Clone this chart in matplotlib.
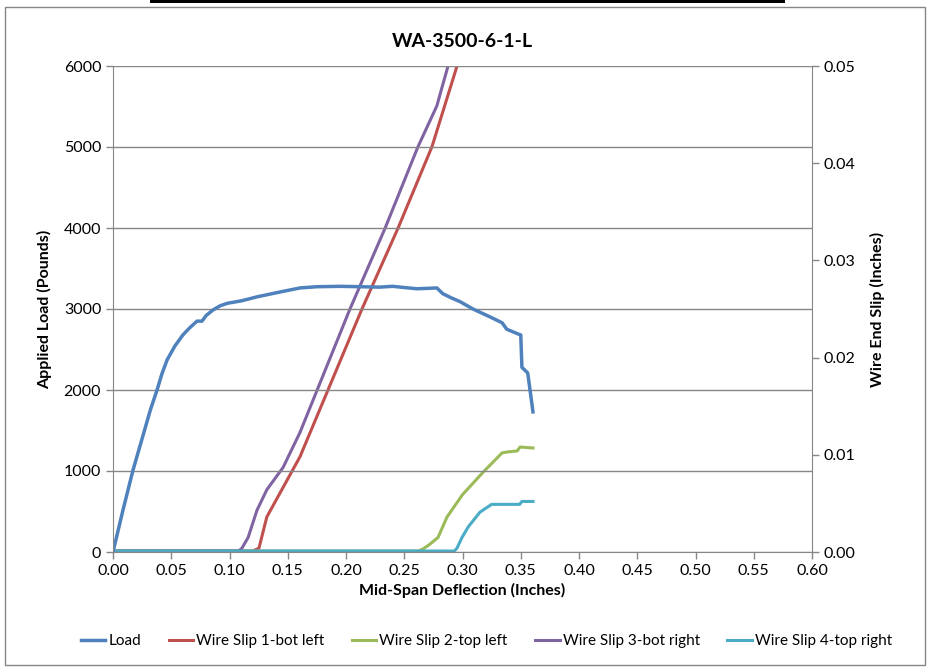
import numpy as np
import matplotlib
matplotlib.use("Agg")
from matplotlib import pyplot as plt
from matplotlib.patches import Rectangle

plt.rcParams['font.family'] = ['Lato', 'DejaVu Sans']

# Load vs mid-span deflection (left axis)
load_x = [0.0, 0.0086, 0.0172, 0.026, 0.032, 0.0378, 0.042, 0.0464, 0.053, 0.060, 0.066,
          0.0721, 0.0764, 0.080, 0.086, 0.092, 0.098, 0.11, 0.1236, 0.14, 0.1605, 0.175,
          0.195, 0.229, 0.240, 0.250, 0.261, 0.270, 0.278, 0.283, 0.290, 0.298, 0.309,
          0.324, 0.334, 0.338, 0.348, 0.350, 0.351, 0.356, 0.3605]
load_y = [0, 520, 1012, 1450, 1750, 2000, 2200, 2370, 2540, 2680, 2770,
          2850, 2850, 2920, 2990, 3040, 3070, 3100, 3150, 3200, 3260, 3275,
          3280, 3270, 3280, 3265, 3250, 3255, 3260, 3190, 3140, 3090, 3000,
          2900, 2830, 2750, 2690, 2680, 2280, 2210, 1730]

# wire end slip (right axis)
slip1_x = [0.0, 0.12, 0.1253, 0.132, 0.1605, 0.2137, 0.2446, 0.2738, 0.2953]
slip1_y = [0.0001, 0.0001, 0.0004, 0.0036, 0.0098, 0.0250, 0.0333, 0.0417, 0.0500]

slip2_x = [0.0, 0.262, 0.266, 0.272, 0.279, 0.2867, 0.300, 0.3176, 0.334, 0.339, 0.347, 0.3494, 0.3605]
slip2_y = [0.0001, 0.0001, 0.0003, 0.0008, 0.0015, 0.0036, 0.0059, 0.0082, 0.0102, 0.0103, 0.0104, 0.0108, 0.0107]

slip3_x = [0.0, 0.108, 0.1107, 0.116, 0.1236, 0.132, 0.146, 0.1605, 0.2034, 0.2335, 0.2618, 0.278, 0.2824, 0.2876]
slip3_y = [0.0001, 0.0001, 0.0004, 0.0015, 0.0043, 0.0064, 0.0087, 0.0123, 0.0250, 0.0333, 0.0417, 0.0459, 0.0478, 0.0500]

slip4_x = [0.0, 0.293, 0.2953, 0.2996, 0.305, 0.315, 0.325, 0.349, 0.351, 0.3605]
slip4_y = [0.0001, 0.0001, 0.0004, 0.0015, 0.0026, 0.0041, 0.0049, 0.0049, 0.0052, 0.0052]

c_load = '#4F81BD'
c1 = '#C0504D'
c2 = '#9BBB59'
c3 = '#8064A2'
c4 = '#4BACC6'
gray = '#868686'

fig = plt.figure(figsize=(9.3, 6.69), dpi=100)
ax = fig.add_axes([113/930, 117/669, 699/930, 486/669])
ax2 = ax.twinx()

ax.set_zorder(ax2.get_zorder() + 1)
ax.patch.set_visible(False)

l0, = ax.plot(load_x, load_y, color=c_load, lw=2.5, label='Load')
l1, = ax2.plot(slip1_x, slip1_y, color=c1, lw=2.2, label='Wire Slip 1-bot left')
l2, = ax2.plot(slip2_x, slip2_y, color=c2, lw=2.2, label='Wire Slip 2-top left')
l3, = ax2.plot(slip3_x, slip3_y, color=c3, lw=2.2, label='Wire Slip 3-bot right')
l4, = ax2.plot(slip4_x, slip4_y, color=c4, lw=2.2, label='Wire Slip 4-top right')

ax.set_xlim(0, 0.6)
ax.set_ylim(0, 6000)
ax2.set_ylim(0, 0.05)
ax.set_xticks(np.arange(0, 0.601, 0.05))
ax.set_xticklabels(['%.2f' % v for v in np.arange(0, 0.601, 0.05)])
ax.set_yticks(range(0, 6001, 1000))
ax2.set_yticks(np.arange(0, 0.0501, 0.01))
ax2.set_yticklabels(['%.2f' % v for v in np.arange(0, 0.0501, 0.01)])

ax.yaxis.grid(True, color=gray, lw=1)
ax.set_axisbelow(True)

for a in (ax, ax2):
    for s in a.spines.values():
        s.set_visible(False)
    a.tick_params(colors=gray, labelcolor='black', labelsize=11.5, length=5, width=1)
ax.spines['left'].set_visible(True)
ax.spines['bottom'].set_visible(True)
ax2.spines['right'].set_visible(True)
ax.spines['left'].set_color(gray)
ax.spines['bottom'].set_color(gray)
ax2.spines['right'].set_color(gray)

ax.set_title('WA-3500-6-1-L', fontsize=14, fontweight='bold', pad=14)
ax.set_xlabel('Mid-Span Deflection (Inches)', fontsize=11.5, fontweight='bold', labelpad=4)
ax.set_ylabel('Applied Load (Pounds)', fontsize=11.5, fontweight='bold', labelpad=8)
ax2.set_ylabel('Wire End Slip (Inches)', fontsize=11.5, fontweight='bold', labelpad=10)

fig.legend(handles=[l0, l1, l2, l3, l4], loc='center', bbox_to_anchor=(0.523, 28/669),
           ncol=5, frameon=False, fontsize=11, handlelength=1.6, handletextpad=0.2,
           columnspacing=1.8)

# chart border and top bar
fig.patches.append(Rectangle((5/930, 4/669), 920/930, 658/669, transform=fig.transFigure,
                             fill=False, edgecolor=gray, lw=1))
fig.patches.append(Rectangle((150/930, 666/669), 635/930, 3/669, transform=fig.transFigure,
                             facecolor='black', edgecolor='none'))

plt.savefig('out.png', dpi=100)
